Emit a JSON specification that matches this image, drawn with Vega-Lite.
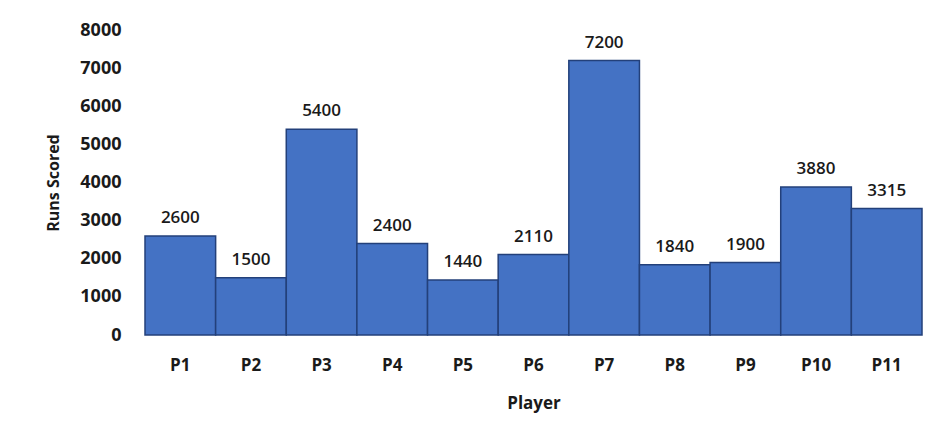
{
  "$schema": "https://vega.github.io/schema/vega-lite/v6.json",
  "autosize": "none",
  "width": 777,
  "height": 305,
  "padding": {"left": 145, "top": 30, "right": 11, "bottom": 106},
  "background": "white",
  "config": {
    "view": {"stroke": null},
    "font": "Open Sans"
  },
  "data": {
    "values": [
      {"player": "P1", "runs": 2600},
      {"player": "P2", "runs": 1500},
      {"player": "P3", "runs": 5400},
      {"player": "P4", "runs": 2400},
      {"player": "P5", "runs": 1440},
      {"player": "P6", "runs": 2110},
      {"player": "P7", "runs": 7200},
      {"player": "P8", "runs": 1840},
      {"player": "P9", "runs": 1900},
      {"player": "P10", "runs": 3880},
      {"player": "P11", "runs": 3315}
    ]
  },
  "encoding": {
    "x": {
      "field": "player",
      "type": "nominal",
      "sort": null,
      "title": "Player",
      "scale": {"paddingInner": 0, "paddingOuter": 0},
      "axis": {
        "labelAngle": 0,
        "domain": false,
        "ticks": false,
        "labelPadding": 22,
        "labelFontSize": 17,
        "labelFontWeight": "bold",
        "labelColor": "#1a1a1a",
        "titleFontSize": 17,
        "titleFontWeight": "bold",
        "titleColor": "#1a1a1a",
        "titlePadding": 22
      }
    },
    "y": {
      "field": "runs",
      "type": "quantitative",
      "title": "Runs Scored",
      "scale": {"domain": [0, 8000]},
      "axis": {
        "values": [0, 1000, 2000, 3000, 4000, 5000, 6000, 7000, 8000],
        "format": "d",
        "grid": false,
        "domain": false,
        "ticks": false,
        "labelPadding": 24,
        "labelFontSize": 18,
        "labelFontWeight": "bold",
        "labelColor": "#1a1a1a",
        "titleFontSize": 16,
        "titleFontWeight": "bold",
        "titleColor": "#1a1a1a",
        "titlePadding": 18
      }
    }
  },
  "layer": [
    {
      "mark": {"type": "bar", "color": "#4472C4", "stroke": "#23407a", "strokeWidth": 1.5}
    },
    {
      "mark": {"type": "text", "baseline": "bottom", "dy": -9, "fontSize": 17, "fontWeight": 600, "color": "#1a1a1a"},
      "encoding": {"text": {"field": "runs", "type": "quantitative", "format": "d"}}
    }
  ]
}
